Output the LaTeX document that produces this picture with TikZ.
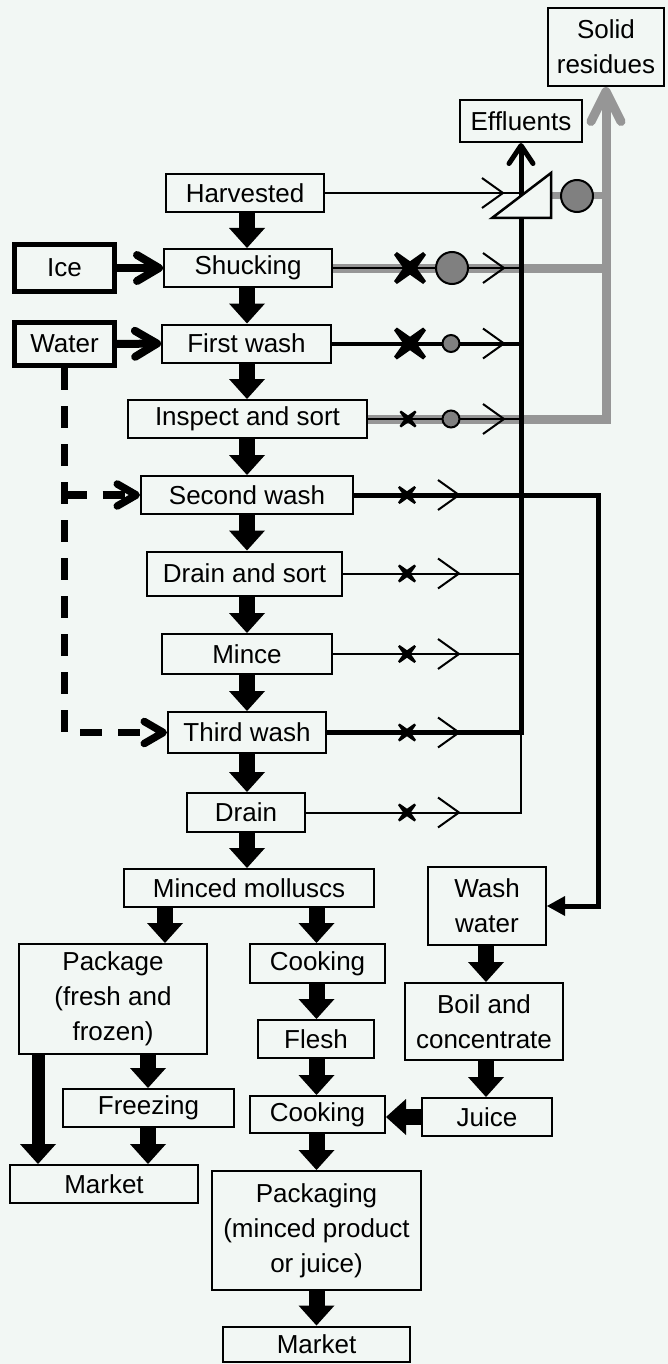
\documentclass[tikz,border=0pt]{standalone}
\usepackage{fontspec}
\setmainfont{Liberation Sans}
\usetikzlibrary{arrows.meta}
\definecolor{paper}{RGB}{242,247,244}
\definecolor{residue}{RGB}{150,150,150}
\definecolor{dotfill}{RGB}{128,128,128}
\tikzset{
  box/.style={draw=black, line width=2pt, fill=paper, inner sep=0pt, align=center,
              font=\fontsize{26}{35}\selectfont},
  inbox/.style={box, line width=5pt},
  blockarrow/.style={line width=16pt, -{Triangle[length=20pt,width=36pt,line width=0pt]}},
  feedarrow/.style={line width=8pt, -{Straight Barb[length=22pt,width=26pt,round]}},
  dashfeed/.style={line width=7.5pt, dash pattern=on 22pt off 16pt,
                   -{Straight Barb[length=19pt,width=22pt,round]}},
  effluentarrow/.style={line width=5pt, line join=miter, -{Straight Barb[length=18pt,width=24pt,round]}},
  residueline/.style={draw=residue, line width=9pt, line join=miter},
  residuearrow/.style={residueline, -{Straight Barb[length=30pt,width=30pt,round]}},
  thinflow/.style={line width=2pt},
  midflow/.style={line width=2.5pt},
  heavyflow/.style={line width=5pt, line join=miter},
  washflow/.style={line width=4pt},
  dot/.style={line width=2pt, fill=dotfill},
  pics/flowmark/.style={code={\draw[line width=2pt, line join=miter] (-21,-15) -- (0,0) -- (-21,15);}},
  pics/wastecross/.style={code={\fill (0.82,1) -- (1,0.82) -- (0.42,0) -- (1,-0.82) -- (0.82,-1)
      -- (0,-0.42) -- (-0.82,-1) -- (-1,-0.82) -- (-0.42,0) -- (-1,0.82) -- (-0.82,1)
      -- (0,0.42) -- cycle;}},
}
\begin{document}
\begin{tikzpicture}[x=1pt,y=-1pt]
\fill[paper] (0,0) rectangle (668,1364);
\useasboundingbox (0,0) rectangle (668,1364);

% ---------- boxes ----------
\node[box, minimum width=116, minimum height=78] (solid) at (606,47) {Solid\\residues};
\node[box, minimum width=122, minimum height=42] (eff) at (521,121) {Effluents};
\node[box, minimum width=158, minimum height=38] (harv) at (245,193) {Harvested};
\node[box, minimum width=168, minimum height=38] (shuck) at (248,268) {Shucking};
\node[inbox, minimum width=100, minimum height=47] (ice) at (64.5,268) {Ice};
\node[inbox, minimum width=100, minimum height=43] (water) at (64.5,344) {Water};
\node[box, minimum width=169, minimum height=38] (fwash) at (246.5,343.5) {First wash};
\node[box, minimum width=239, minimum height=38] (insp) at (247.5,419) {Inspect and sort};
\node[box, minimum width=212, minimum height=38] (swash) at (247,495) {Second wash};
\node[box, minimum width=195, minimum height=44] (dsort) at (244.5,573.5) {Drain and sort};
\node[box, minimum width=170, minimum height=40] (mince) at (247,654) {Mince};
\node[box, minimum width=158, minimum height=41] (twash) at (247,732.5) {Third wash};
\node[box, minimum width=118, minimum height=39] (drain) at (246,812.5) {Drain};
\node[box, minimum width=250, minimum height=38] (minced) at (249,888) {Minced molluscs};
\node[box, minimum width=188, minimum height=110] (pack) at (113,999) {Package\\(fresh and\\frozen)};
\node[box, minimum width=135, minimum height=39] (cook1) at (317.5,963.5) {Cooking};
\node[box, minimum width=116, minimum height=38] (flesh) at (316,1039) {Flesh};
\node[box, minimum width=135, minimum height=37] (cook2) at (317.5,1114.5) {Cooking};
\node[box, minimum width=118, minimum height=78] (wwater) at (487,906) {Wash\\water};
\node[box, minimum width=158, minimum height=77] (boil) at (484,1021.5) {Boil and\\concentrate};
\node[box, minimum width=130, minimum height=38] (juice) at (487,1117) {Juice};
\node[box, minimum width=171, minimum height=38] (freez) at (148.5,1108) {Freezing};
\node[box, minimum width=188, minimum height=38] (mkt1) at (104,1184) {Market};
\node[box, minimum width=209, minimum height=119] (packg) at (316.5,1230.5) {Packaging\\(minced product\\or juice)};
\node[box, minimum width=187, minimum height=35] (mkt2) at (316.5,1344) {Market};

% ---------- column guides ----------
\coordinate (xmain) at (247,0);
\coordinate (xpack) at (165,0);
\coordinate (xcook) at (316.5,0);
\coordinate (xfrz) at (148,0);
\coordinate (xleft) at (38,0);
\coordinate (xwash) at (486,0);
\coordinate (sepR) at (551,196);
\coordinate (wr) at (598,495);
\coordinate (cb) at (twash.east -| eff.south);
\coordinate (dj) at (water.south |- swash.west);

% ---------- residue (grey) lines ----------
\draw[residueline] (shuck.east) -- (shuck.east -| solid.south);
\draw[residueline, line width=7pt] (sepR) -- (sepR -| solid.south);
\draw[residuearrow] (insp.east) -| (solid.south);

% ---------- effluent lines ----------
\draw[thinflow] (harv.east) -- (harv.east -| eff.south);
\draw[midflow] (shuck.east) -- (shuck.east -| eff.south);
\draw[washflow] (fwash.east) -- (fwash.east -| eff.south);
\draw[midflow] (insp.east) -- (insp.east -| eff.south);
\draw[thinflow] (dsort.east) -- (dsort.east -| eff.south);
\draw[thinflow] (mince.east) -- (mince.east -| eff.south);
\draw[thinflow] (drain.east) -| (cb);
\draw[effluentarrow] (twash.east) -| (eff.south);
\draw[heavyflow, -{Triangle[length=18pt,width=20pt,line width=0pt]}] (swash.east) -- (wr) |- (wwater.east);

% separator
\filldraw[fill=paper, line width=2.5pt, line join=miter] (492,218) -- (551,173) -- (551,218) -- cycle;
\draw[dot] (577,196) circle[radius=16pt];

% markers along the effluent lines
\pic[scale=16] at (410,268) {wastecross};
\pic[scale=16] at (410,343.5) {wastecross};
\pic[scale=8.5] at (408,419) {wastecross};
\pic[scale=9] at (407,495) {wastecross};
\pic[scale=9] at (407,573.5) {wastecross};
\pic[scale=9] at (407,654) {wastecross};
\pic[scale=9] at (407,732.5) {wastecross};
\pic[scale=9] at (407,812.5) {wastecross};
\draw[dot] (452,268) circle[radius=16pt];
\draw[dot] (451,343.5) circle[radius=8.5pt];
\draw[dot] (451,419) circle[radius=8.5pt];
\pic at (503,193) {flowmark};
\pic at (504,268) {flowmark};
\pic at (504,343.5) {flowmark};
\pic at (504,419) {flowmark};
\pic at (459,495) {flowmark};
\pic at (459,573.5) {flowmark};
\pic at (459,654) {flowmark};
\pic at (459,732.5) {flowmark};
\pic at (459,812.5) {flowmark};

% ---------- inputs ----------
\draw[feedarrow] (ice.east) -- (shuck.west);
\draw[feedarrow] (water.east) -- (fwash.west);
\draw[dashfeed] (water.south) |- (twash.west);
\draw[dashfeed] (dj) -- (swash.west);

% ---------- main process ----------
\draw[blockarrow] (harv.south -| xmain) -- (shuck.north -| xmain);
\draw[blockarrow] (shuck.south -| xmain) -- (fwash.north -| xmain);
\draw[blockarrow] (fwash.south -| xmain) -- (insp.north -| xmain);
\draw[blockarrow] (insp.south -| xmain) -- (swash.north -| xmain);
\draw[blockarrow] (swash.south -| xmain) -- (dsort.north -| xmain);
\draw[blockarrow] (dsort.south -| xmain) -- (mince.north -| xmain);
\draw[blockarrow] (mince.south -| xmain) -- (twash.north -| xmain);
\draw[blockarrow] (twash.south -| xmain) -- (drain.north -| xmain);
\draw[blockarrow] (drain.south -| xmain) -- (minced.north -| xmain);
\draw[blockarrow] (minced.south -| xpack) -- (pack.north -| xpack);
\draw[blockarrow] (minced.south -| xcook) -- (cook1.north -| xcook);
\draw[blockarrow] (cook1.south -| xcook) -- (flesh.north -| xcook);
\draw[blockarrow] (flesh.south -| xcook) -- (cook2.north -| xcook);
\draw[blockarrow] (cook2.south -| xcook) -- (packg.north -| xcook);
\draw[blockarrow] (packg.south -| xcook) -- (mkt2.north -| xcook);
\draw[blockarrow] (pack.south -| xfrz) -- (freez.north -| xfrz);
\draw[blockarrow] (freez.south -| xfrz) -- (mkt1.north -| xfrz);
\draw[blockarrow, line width=13pt] (pack.south -| xleft) -- (mkt1.north -| xleft);
\draw[blockarrow] (wwater.south -| xwash) -- (boil.north -| xwash);
\draw[blockarrow] (boil.south -| xwash) -- (juice.north -| xwash);
\draw[blockarrow] (juice.west) -- (juice.west -| cook2.east);
\end{tikzpicture}
\end{document}
